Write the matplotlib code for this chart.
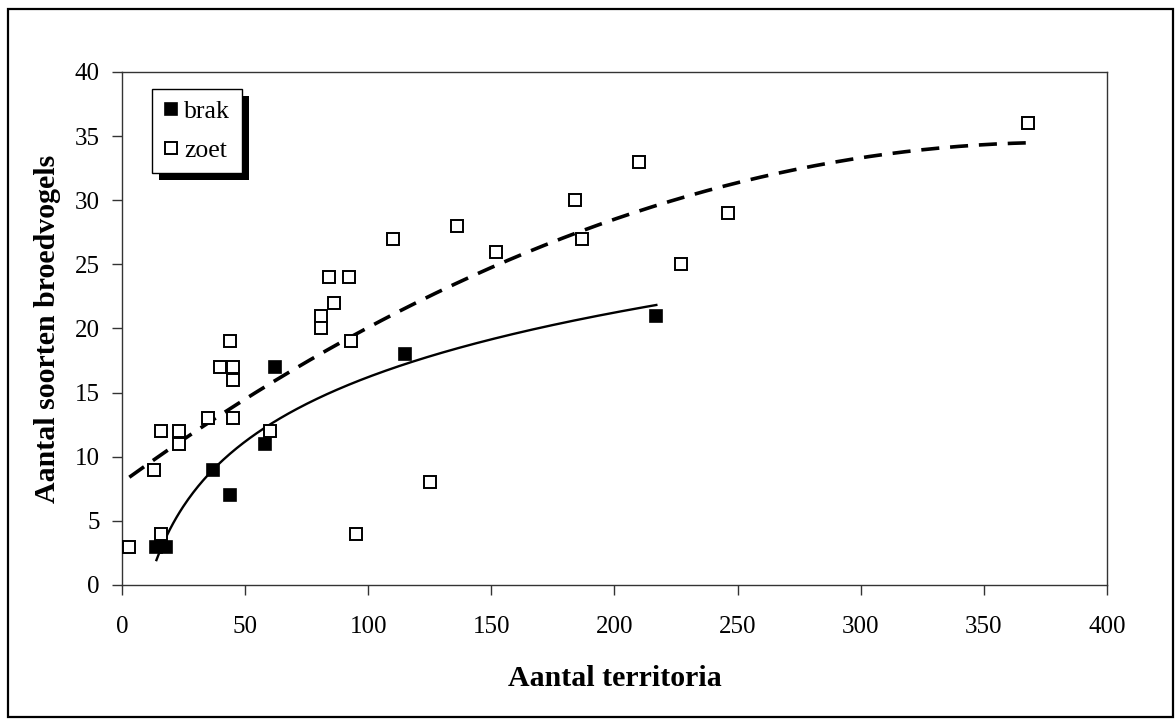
import numpy as np
import matplotlib
matplotlib.use("Agg")
import matplotlib.pyplot as plt
from matplotlib.patches import Rectangle

plt.rcParams['font.family'] = ['Liberation Serif', 'DejaVu Serif']

# brak (filled squares)
brak_x = [14, 18, 37, 44, 58, 62, 115, 217]
brak_y = [3, 3, 9, 7, 11, 17, 18, 21]

# zoet (open squares)
zoet_x = [3, 13, 16, 16, 23, 23, 35, 40, 44, 45, 45, 45, 60, 81, 81, 84, 86,
          92, 93, 95, 110, 125, 136, 152, 184, 187, 210, 227, 246, 368]
zoet_y = [3, 9, 12, 4, 12, 11, 13, 17, 19, 17, 16, 13, 12, 21, 20, 24, 22,
          24, 19, 4, 27, 8, 28, 26, 30, 27, 33, 25, 29, 36]

x_ticks = [0, 50, 100, 150, 200, 250, 300, 350, 400]
y_ticks = [0, 5, 10, 15, 20, 25, 30, 35, 40]

fig = plt.figure(figsize=(11.76, 7.19), dpi=100)
ax = fig.add_axes([0.1037, 0.1864, 0.8376, 0.7135])

# trendlines: log fit for brak, 2nd order polynomial for zoet
bx = np.array(brak_x, dtype=float)
a, b = np.polyfit(np.log(bx), np.array(brak_y, dtype=float), 1)
xs = np.linspace(bx.min(), bx.max(), 300)
ax.plot(xs, a * np.log(xs) + b, color='black', lw=1.7, zorder=2)

zx = np.array(zoet_x, dtype=float)
p = np.polyfit(zx, np.array(zoet_y, dtype=float), 2)
xz = np.linspace(zx.min(), zx.max(), 300)
ax.plot(xz, np.polyval(p, xz), color='black', lw=2.6, ls=(0, (5, 3)), zorder=2)

ax.plot(brak_x, brak_y, 's', ms=9, mfc='black', mec='black', mew=1.2,
        ls='none', label='brak', zorder=3)
ax.plot(zoet_x, zoet_y, 's', ms=9, mfc='white', mec='black', mew=1.4,
        ls='none', label='zoet', zorder=3)

ax.set_xlim(0, 400)
ax.set_ylim(0, 40)
ax.set_xticks(x_ticks)
ax.set_yticks(y_ticks)
ax.tick_params(labelsize=18, length=7, width=1, color='#333333')
ax.tick_params(axis='y', pad=9)
ax.tick_params(axis='x', pad=15)
for s in ax.spines.values():
    s.set_color('#333333')
    s.set_linewidth(1.0)

ax.set_xlabel('Aantal territoria', fontsize=21.5, fontweight='bold', labelpad=20)
ax.set_ylabel('Aantal soorten broedvogels', fontsize=21.5, fontweight='bold', labelpad=10)

leg = ax.legend(loc='upper left', bbox_to_anchor=(0.0305, 0.967), borderaxespad=0,
                fontsize=18.5, frameon=True, fancybox=False, edgecolor='black',
                handlelength=0.55, handletextpad=0.25, labelspacing=0.6,
                borderpad=0.45, markerscale=1.0, framealpha=1)
leg.get_frame().set_linewidth(1.0)
leg.get_frame().set_facecolor('white')
leg.set_zorder(5)

# black drop shadow behind the legend box
fig.canvas.draw()
bb = leg.get_window_extent().transformed(ax.transAxes.inverted())
dx, dy = 7 / 985, 7 / 513
ax.add_patch(Rectangle((bb.x0 + dx, bb.y0 - dy), bb.width, bb.height,
                       transform=ax.transAxes, facecolor='black',
                       edgecolor='none', zorder=4, clip_on=False))

# outer frame around the whole chart
fig.patches.append(Rectangle((8 / 1176, 2 / 719), 1165 / 1176, 708 / 719,
                             transform=fig.transFigure, fill=False,
                             edgecolor='black', lw=1.6))

fig.savefig('out.png', dpi=100)
